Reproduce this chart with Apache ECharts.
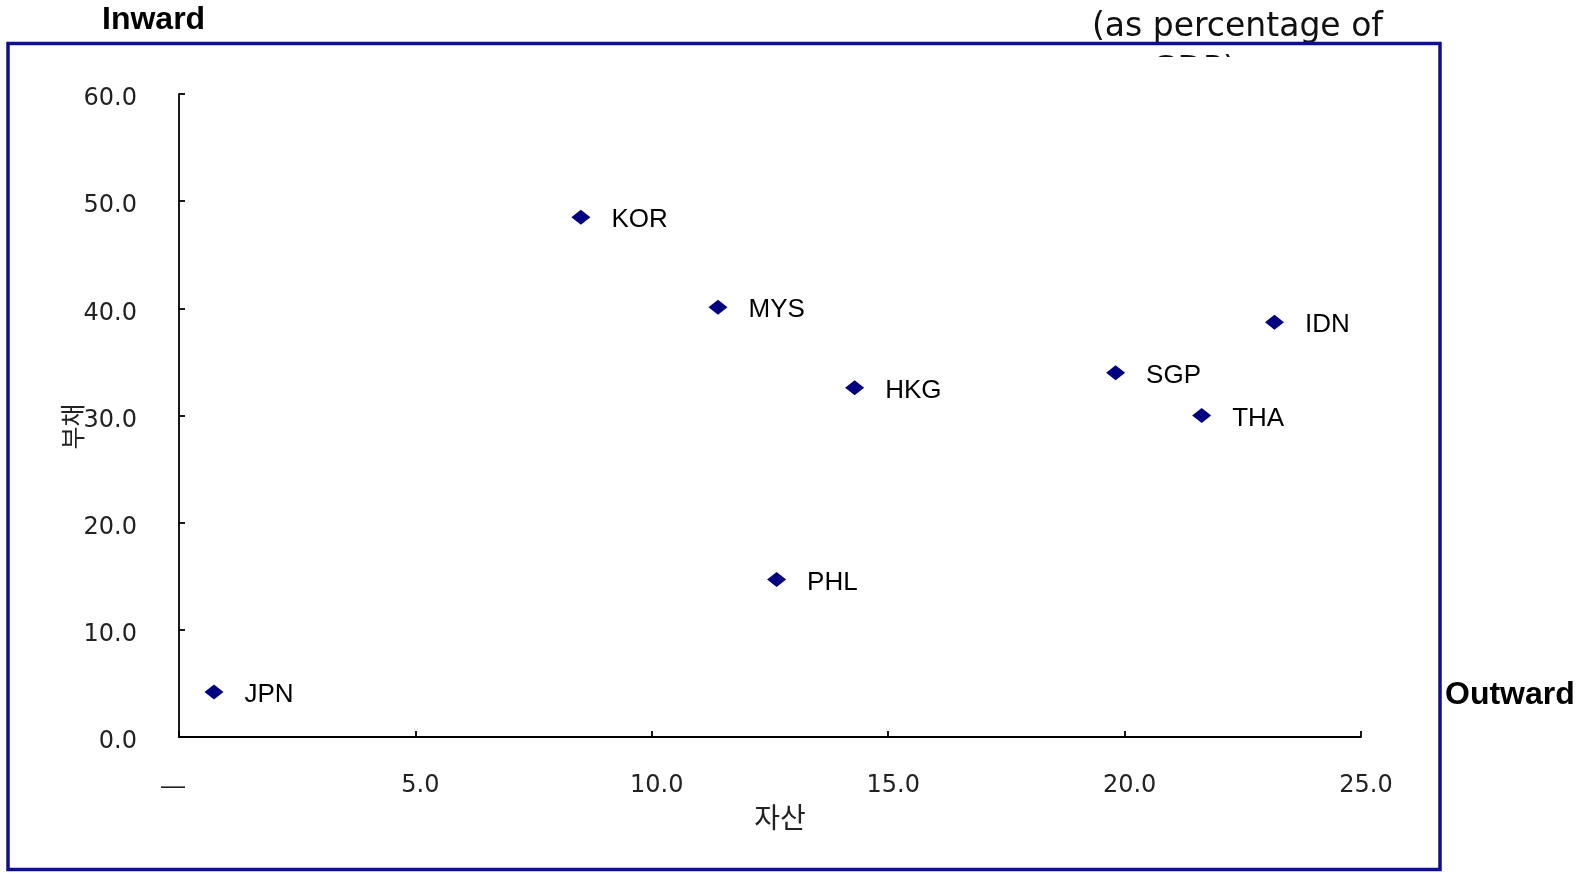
<!DOCTYPE html>
<html>
<head>
<meta charset="utf-8">
<script src="https://cdn.jsdelivr.net/npm/echarts@6/dist/echarts.min.js"></script>
<style>
  html, body { margin: 0; padding: 0; background: #ffffff; }
  #chart { width: 1589px; height: 875px; }
</style>
</head>
<body>
<div id="chart"></div>
<script>
// Foreign assets (x) and liabilities (y), as percentage of GDP
const countries   = ['KOR', 'MYS', 'HKG', 'PHL', 'JPN', 'SGP', 'THA', 'IDN'];
const assets      = [8.50, 11.40, 14.29, 12.64, 0.74, 19.81, 21.63, 23.17];
const liabilities = [48.5, 40.1, 32.6, 14.7, 4.2, 34.0, 30.0, 38.7];

const xAxisName = '자산';
const yAxisName = '부채';
const topLeftTitle = 'Inward';
const rightTitle = 'Outward';
const unitLine1 = '(as percentage of';
const unitLine2 = 'GDP)';

const points = countries.map((c, i) => [assets[i], liabilities[i], c]);

const latin = '"Liberation Sans", Arial, sans-serif';
const tickFont = '"DejaVu Sans", sans-serif';
const korean = '"Noto Sans CJK KR", sans-serif';
const navy = '#000080';

const chart = echarts.init(document.getElementById('chart'));
chart.setOption({
  backgroundColor: '#ffffff',
  animation: false,
  grid: { left: 179, top: 94, right: 228, bottom: 138 },
  xAxis: {
    type: 'value',
    min: 0, max: 25, interval: 5,
    name: xAxisName,
    nameLocation: 'middle',
    nameGap: 66,
    nameTextStyle: { fontFamily: korean, fontSize: 28, color: '#222', padding: [0, 0, 0, 20] },
    axisLine: { show: true, onZero: false, lineStyle: { color: '#000', width: 1.8 } },
    axisTick: { show: true, inside: true, length: 6, lineStyle: { color: '#000', width: 1.8 } },
    axisLabel: {
      margin: 37, color: '#222',
      formatter: v => (v === 0 ? '{d|—}' : '{n|' + v.toFixed(1) + '}'),
      rich: {
        d: { fontFamily: latin, fontSize: 24, color: '#222', padding: [0, 12, 0, 0] },
        n: { fontFamily: tickFont, fontSize: 24, color: '#222', padding: [0, 0, 0, 10] }
      }
    },
    splitLine: { show: false }
  },
  yAxis: {
    type: 'value',
    min: 0, max: 60, interval: 10,
    name: yAxisName,
    nameLocation: 'middle',
    nameRotate: 90,
    nameGap: 94,
    nameMoveOverlap: false,
    nameTextStyle: { fontFamily: korean, fontSize: 25, color: '#222', padding: [0, 22, 0, 0] },
    axisLine: { show: true, onZero: false, lineStyle: { color: '#000', width: 1.8 } },
    axisTick: { show: true, inside: true, length: 6, lineStyle: { color: '#000', width: 1.8 } },
    axisLabel: {
      margin: 42, color: '#222',
      formatter: v => '{n|' + v.toFixed(1) + '}',
      rich: {
        n: { fontFamily: tickFont, fontSize: 24, color: '#222', padding: [10, 0, 0, 0] }
      }
    },
    splitLine: { show: false }
  },
  series: [{
    type: 'scatter',
    data: points,
    symbol: 'diamond',
    symbolSize: [19, 15],
    itemStyle: { color: navy, opacity: 1 },
    label: {
      show: true,
      position: 'right',
      distance: 21,
      offset: [0, 3],
      fontFamily: latin,
      fontSize: 26,
      color: '#000',
      formatter: p => p.data[2]
    }
  }],
  graphic: [
    {
      type: 'text', z: -10, left: 1092, top: 11,
      style: { text: unitLine1, font: '33px "DejaVu Sans", sans-serif', fill: '#111' }
    },
    {
      type: 'text', z: -10, left: 1152, top: 55,
      style: { text: unitLine2, font: '33px "DejaVu Sans", sans-serif', fill: '#111' }
    },
    {
      type: 'rect', z: -5,
      shape: { x: 10, y: 57, width: 1428, height: 811 },
      style: { fill: '#ffffff' }
    },
    {
      type: 'rect', z: 100,
      shape: { x: 8, y: 43.5, width: 1432, height: 826 },
      style: { fill: 'none', stroke: '#10108a', lineWidth: 3.5 }
    },
    {
      type: 'text', z: 100, left: 102, top: 4,
      style: { text: topLeftTitle, font: 'bold 32px "Liberation Sans", Arial, sans-serif', fill: '#000' }
    },
    {
      type: 'text', z: 100, left: 1445, top: 679,
      style: { text: rightTitle, font: 'bold 32px "Liberation Sans", Arial, sans-serif', fill: '#000' }
    }
  ]
});
</script>
</body>
</html>
